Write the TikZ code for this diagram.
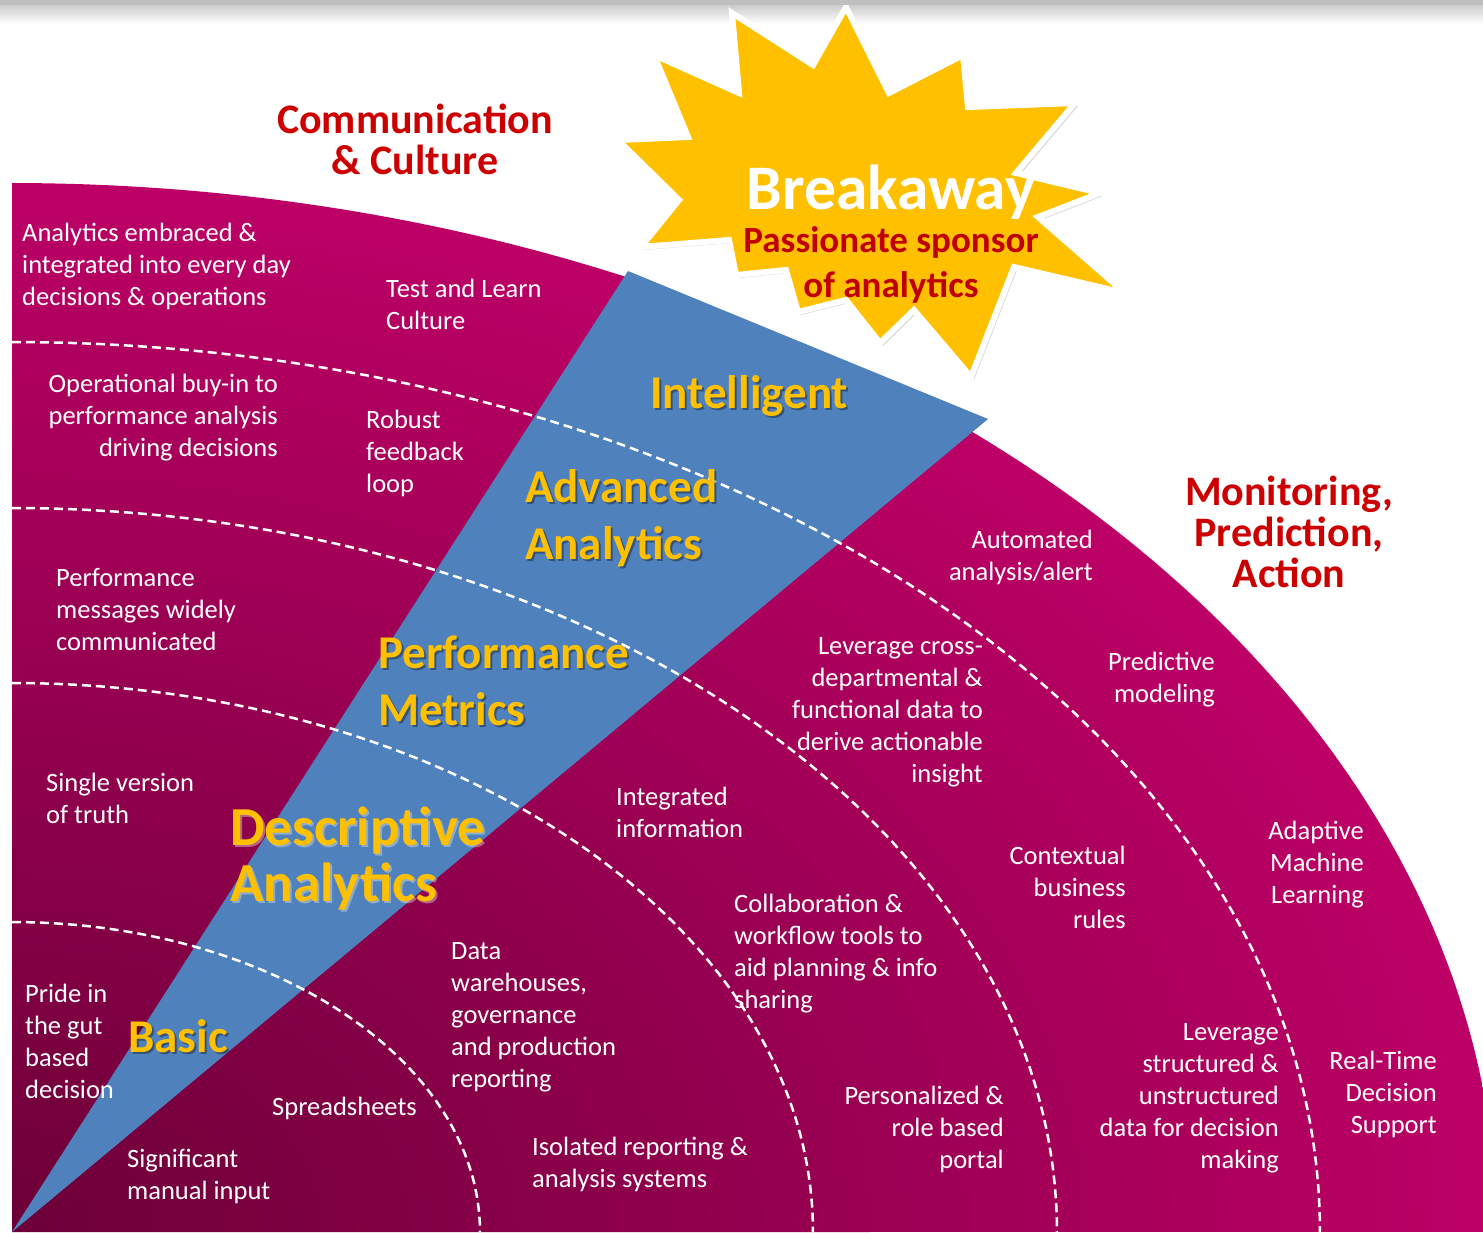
\documentclass[tikz,border=0pt]{standalone}
\usepackage{fontspec}
\setmainfont{Carlito}
\usetikzlibrary{shadows}
\definecolor{magin}{HTML}{6C0038}
\definecolor{magout}{HTML}{BC0066}
\definecolor{wedgeblue}{HTML}{4F81BD}
\definecolor{gold}{HTML}{FFC000}
\definecolor{ttlred}{HTML}{CC0000}
\definecolor{sponsorred}{HTML}{C00000}
\begin{document}
\begin{tikzpicture}[x=1pt,y=-1pt,
  body/.style={text=white, font=\fontsize{26.5}{32}\selectfont, inner sep=0pt},
  bl/.style={body, anchor=base west, align=left},
  br/.style={body, anchor=base east, align=right},
  ttl/.style={text=ttlred, font=\bfseries\fontsize{42}{41}\selectfont, inner sep=0pt, anchor=base, align=center},
  ylab/.style={text=gold, font=\bfseries\fontsize{47}{57}\selectfont, inner sep=0pt, anchor=base west, align=left},
  yshadow/.style={ylab, text=black, text opacity=0.35},
  ybig/.style={ylab, font=\bfseries\fontsize{55}{56}\selectfont},
  yglow/.style={ybig, text=gray!25, text opacity=0.45},
  dasharc/.style={draw=white, line width=2.5pt, dash pattern=on 9pt off 5pt},
  starshape/.style={fill=gold, draw=white, line width=6pt, line join=miter,
     drop shadow={shadow xshift=3pt, shadow yshift=-3pt, opacity=0.3}},
]
\useasboundingbox (0,0) rectangle (1483,1232);
\fill[white] (0,0) rectangle (1483,1232);
\begin{scope}
\clip (0,0) rectangle (1483,1232);
% top gradient
\shade[top color=gray!40, bottom color=white] (0,5) rectangle (1483,24);
% magenta quarter
\begin{scope}
\clip (12,1232) -- plot[domain=90:0,samples=160] ({12+1485*cos(\x)},{1232-1049*sin(\x)}) -- cycle;
\shade[inner color=magin, outer color=magout] (12,1232) ellipse[x radius=1485, y radius=1049];
\end{scope}
% blue wedge
\fill[wedgeblue] (12,1232) -- (628,271) -- (988,419) -- cycle;
% dashed arcs
\draw[dasharc] plot[domain=90:0,samples=100] ({12+468*cos(\x)},{1232-310*sin(\x)});
\draw[dasharc] plot[domain=90:0,samples=120] ({12+801*cos(\x)},{1232-549*sin(\x)});
\draw[dasharc] plot[domain=90:0,samples=140] ({12+1045*cos(\x)},{1232-724*sin(\x)});
\draw[dasharc] plot[domain=90:0,samples=160] ({12+1308*cos(\x)},{1232-890*sin(\x)});
% star
\draw[starshape] (846,7) -- (889,93) -- (963,55) -- (968,107) -- (1075,103) -- (1016,173)
  -- (1100,193) -- (1038,217) -- (1125,293) -- (1014,267) -- (971,377) -- (914,310)
  -- (880,343) -- (846,300) -- (798,312) -- (786,270) -- (736,275) -- (729,240)
  -- (641,247) -- (679,200) -- (618,140) -- (688,137) -- (654,55) -- (739,93)
  -- (732,13) -- (813,65) -- cycle;
% top band
\fill[gray!50] (0,0) rectangle (1483,5);
\end{scope}

% titles (base anchor = last line baseline)
\node[ttl] (comm) at (415,174) {Communication\\\& Culture};
\node[ttl] (mon) at (1289,587) {Monitoring,\\Prediction,\\Action};
\node[text=white, font=\bfseries\fontsize{63.5}{70}\selectfont, inner sep=0pt, anchor=base] (brk) at (891,209) {Breakaway};
\node[text=sponsorred, font=\bfseries\fontsize{37}{45}\selectfont, inner sep=0pt, anchor=base, align=center] (spon) at (891,297) {Passionate sponsor\\of analytics};

% yellow labels with shadows
\node[yshadow] (intel-s) at (652,410) {Intelligent};
\node[ylab] (intel) at (650,408) {Intelligent};
\node[yshadow] (adv-s) at (527,561) {Advanced\\Analytics};
\node[ylab] (adv) at (525,559) {Advanced\\Analytics};
\node[yshadow] (perf-s) at (380,727) {Performance\\Metrics};
\node[ylab] (perf) at (378,725) {Performance\\Metrics};
\node[yglow] (desc-s) at (232,903) {Descriptive\\Analytics};
\node[ybig] (desc) at (230,901) {Descriptive\\Analytics};
\node[yshadow] (basic-s) at (130,1054) {Basic};
\node[ylab] (basic) at (128,1052) {Basic};

% body texts
\node[bl] (t1) at (22,305) {Analytics embraced \&\\integrated into every day\\decisions \& operations};
\node[bl] (t2) at (386,329) {Test and Learn\\Culture};
\node[br] (t3) at (278,456) {Operational buy-in to\\performance analysis\\driving decisions};
\node[bl] (t4) at (366,492) {Robust\\feedback\\loop};
\node[bl] (t5) at (56,650) {Performance\\messages widely\\communicated};
\node[bl] (t6) at (46,823) {Single version\\of truth};
\node[bl] (t7) at (25,1098) {Pride in\\the gut\\based\\decision};
\node[bl] (t8) at (127,1199) {Significant\\manual input};
\node[bl] (t9) at (272,1115) {Spreadsheets};
\node[bl] (t10) at (451,1087) {Data\\warehouses,\\governance\\and production\\reporting};
\node[bl] (t11) at (532,1187) {Isolated reporting \&\\analysis systems};
\node[bl] (t12) at (616,837) {Integrated\\information};
\node[bl] (t13) at (734,1008) {Collaboration \&\\workflow tools to\\aid planning \& info\\sharing};
\node[br] (t14) at (1004,1168) {Personalized \&\\role based\\portal};
\node[br] (t15) at (983,782) {Leverage cross-\\departmental \&\\functional data to\\derive actionable\\insight};
\node[br] (t16) at (1093,580) {Automated\\analysis/alert};
\node[br] (t17) at (1126,928) {Contextual\\business\\rules};
\node[br] (t18) at (1215,702) {Predictive\\modeling};
\node[br] (t19) at (1364,903) {Adaptive\\Machine\\Learning};
\node[br] (t20) at (1279,1168) {Leverage\\structured \&\\unstructured\\data for decision\\making};
\node[br] (t21) at (1437,1133) {Real-Time\\Decision\\Support};
\end{tikzpicture}
\end{document}
